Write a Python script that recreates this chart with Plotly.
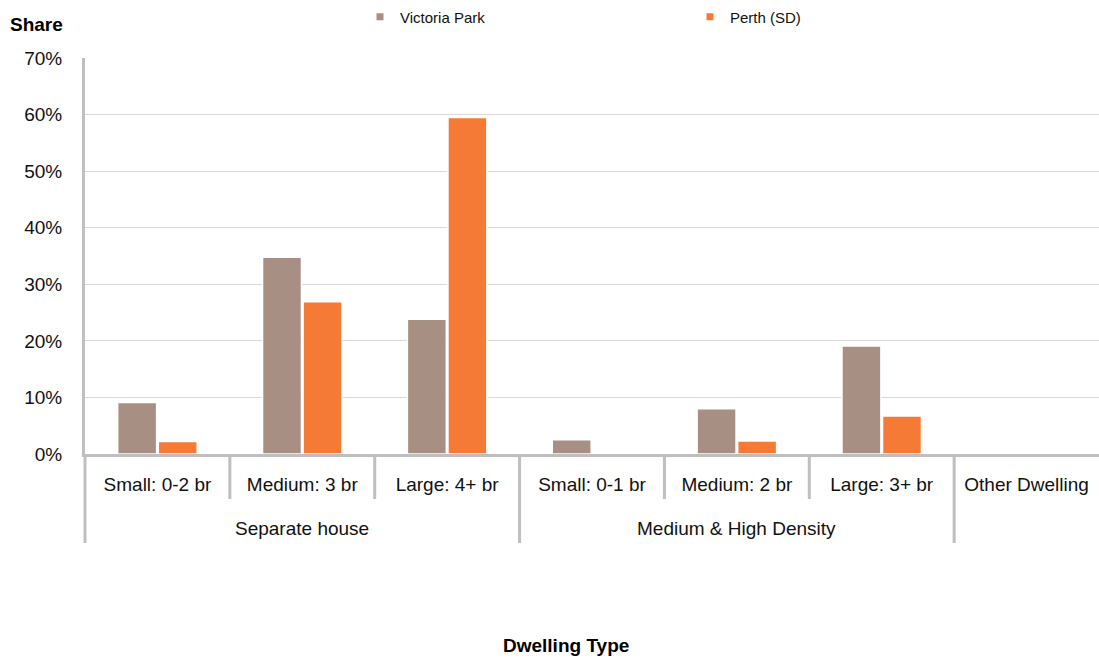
import plotly.graph_objects as go

# Dwelling type breakdown: inner categories, their parent groups and shares (%)
categories = ["Small: 0-2 br", "Medium: 3 br", "Large: 4+ br",
              "Small: 0-1 br", "Medium: 2 br", "Large: 3+ br", "Other Dwelling"]
groups = ["Separate house", "Separate house", "Separate house",
          "Medium & High Density", "Medium & High Density", "Medium & High Density",
          ""]
victoria_park = [9.1, 34.8, 23.8, 2.5, 8.0, 19.1, 0.0]
perth_sd = [2.2, 26.9, 59.5, 0.0, 2.3, 6.7, 0.0]
series_names = ["Victoria Park", "Perth (SD)"]
y_ticks = [0, 10, 20, 30, 40, 50, 60, 70]
y_tick_text = [f"{v}%" for v in y_ticks]

BROWN = "#A88F84"
ORANGE = "#F47A35"
AXIS_GREY = "#BFBFBF"
FONT = "Liberation Sans, Arial, sans-serif"

W, H = 1099, 659
M_L, M_R, M_T, M_B = 85, 0, 58, 205
plot_w = W - M_L - M_R
plot_h = H - M_T - M_B

fig = go.Figure()
for name, vals, col in [(series_names[0], victoria_park, BROWN),
                        (series_names[1], perth_sd, ORANGE)]:
    fig.add_trace(go.Bar(
        x=categories, y=vals, name=name, showlegend=False,
        marker=dict(color=col, line=dict(color="white", width=1.5)),
    ))
    # small square legend swatch
    fig.add_trace(go.Scatter(
        x=[None], y=[None], name=name, mode="markers",
        marker=dict(symbol="square", size=7, color=col),
    ))

n = len(categories)
shapes = []
# category / group separators below the axis
for k in range(n):
    is_group_edge = k == 0 or groups[k] != groups[k - 1]
    depth = 89 if is_group_edge else 45
    shapes.append(dict(
        type="line", xref="x domain", yref="paper",
        x0=k / n, x1=k / n, y0=0, y1=-depth / plot_h,
        line=dict(color=AXIS_GREY, width=3), layer="below",
    ))

annotations = []
# group labels centred under their categories
seen = []
for g in groups:
    if g and g not in seen:
        seen.append(g)
for g in seen:
    idx = [i for i, gg in enumerate(groups) if gg == g]
    annotations.append(dict(
        text=g, xref="x", yref="paper", x=sum(idx) / len(idx),
        y=-74 / plot_h, xanchor="center", yanchor="middle", showarrow=False,
        font=dict(family=FONT, size=19, color="#111111"),
    ))
annotations.append(dict(
    text="<b>Share</b>", xref="paper", yref="paper",
    x=(8 - M_L) / plot_w, y=1 + (M_T - 24) / plot_h,
    xanchor="left", yanchor="middle", showarrow=False,
    font=dict(family=FONT, size=19, color="#000000"),
))
annotations.append(dict(
    text="<b>Dwelling Type</b>", xref="paper", yref="paper",
    x=(566 - M_L) / plot_w, y=-(645 - (M_T + plot_h)) / plot_h,
    xanchor="center", yanchor="middle", showarrow=False,
    font=dict(family=FONT, size=19, color="#000000"),
))

fig.update_layout(
    width=W, height=H,
    margin=dict(l=M_L, r=M_R, t=M_T, b=M_B, autoexpand=False),
    paper_bgcolor="white", plot_bgcolor="white",
    barmode="group", bargap=0.44, bargroupgap=0.04,
    font=dict(family=FONT, size=19, color="#111111"),
    shapes=shapes, annotations=annotations,
    legend=dict(
        orientation="h", x=(360 - M_L) / plot_w, xanchor="left",
        y=1 + (M_T - 17) / plot_h, yanchor="middle",
        entrywidth=285, entrywidthmode="pixels",
        font=dict(family=FONT, size=15, color="#111111"),
        bgcolor="rgba(0,0,0,0)",
    ),
    xaxis=dict(
        type="category", categoryorder="array", categoryarray=categories,
        range=[-0.5, n - 0.5], showline=True, linecolor=AXIS_GREY, linewidth=3,
        showgrid=False, ticks="", ticklabelstandoff=11,
        tickfont=dict(family=FONT, size=19, color="#111111"),
    ),
    yaxis=dict(
        range=[0, 70], tickmode="array", tickvals=y_ticks, ticktext=y_tick_text,
        showline=True, linecolor=AXIS_GREY, linewidth=3,
        showgrid=True, gridcolor="#D9D9D9", gridwidth=1.2,
        zeroline=False, ticks="", ticklabelstandoff=16,
        tickfont=dict(family=FONT, size=19, color="#111111"),
    ),
)

fig.write_html("out.html")
